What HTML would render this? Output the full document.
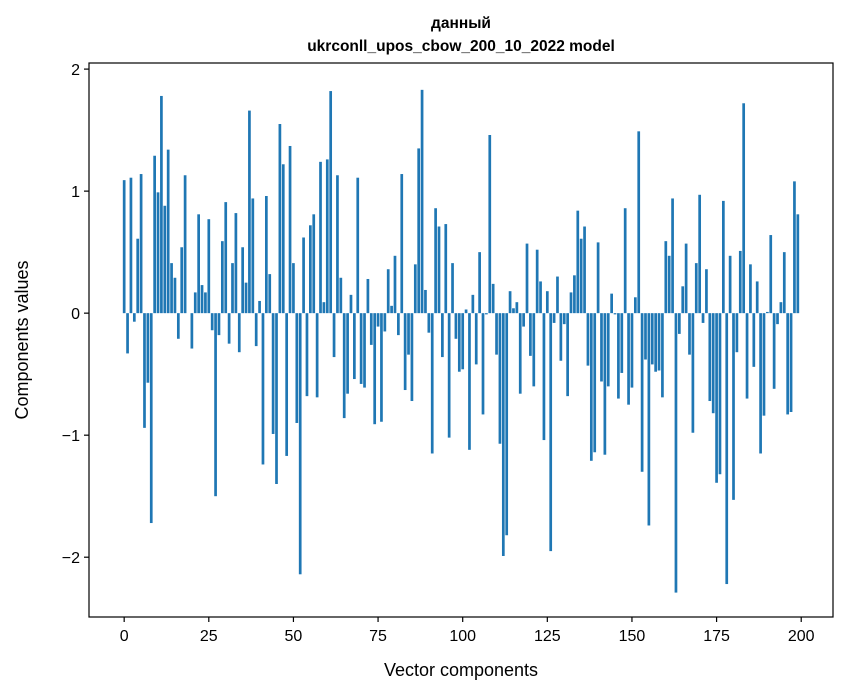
<!DOCTYPE html>
<html><head><meta charset="utf-8"><style>
body{margin:0;background:#fff;}
svg{display:block;font-family:"Liberation Sans","DejaVu Sans",sans-serif;}
</style></head><body>
<svg id="chart" width="847" height="696" viewBox="0 0 847 696">
<rect width="847" height="696" fill="#fff"/>
<text x="461" y="28" text-anchor="middle" font-size="15.5" font-weight="bold">данный</text>
<text x="461" y="51" text-anchor="middle" font-size="15.5" font-weight="bold">ukrconll_upos_cbow_200_10_2022 model</text>
<g id="bars"></g>
<g id="xticks"></g>
<g id="yticks"></g>
<rect x="89" y="63" width="744" height="554" fill="none" stroke="#000" stroke-width="1.2"/>
<text x="461" y="676" text-anchor="middle" font-size="18">Vector components</text>
<text transform="translate(28,340) rotate(-90)" text-anchor="middle" font-size="18">Components values</text>
</svg>
<script>
const values = [1.09,-0.33,1.11,-0.07,0.61,1.14,-0.94,-0.57,-1.72,1.29,
0.99,1.78,0.88,1.34,0.41,0.29,-0.21,0.54,1.13,0.0,
-0.29,0.17,0.81,0.23,0.17,0.77,-0.14,-1.50,-0.18,0.59,
0.91,-0.25,0.41,0.82,-0.32,0.54,0.25,1.66,0.94,-0.27,
0.10,-1.24,0.96,0.32,-0.99,-1.40,1.55,1.22,-1.17,1.37,
0.41,-0.90,-2.14,0.62,-0.68,0.72,0.81,-0.69,1.24,0.09,
1.26,1.82,-0.36,1.13,0.29,-0.86,-0.66,0.15,-0.54,1.11,
-0.58,-0.61,0.28,-0.26,-0.91,-0.11,-0.89,-0.15,0.36,0.06,
0.47,-0.18,1.14,-0.63,-0.34,-0.72,0.40,1.35,1.83,0.19,
-0.16,-1.15,0.86,0.71,-0.36,0.73,-1.02,0.41,-0.21,-0.48,
-0.46,0.03,-1.12,0.15,-0.42,0.50,-0.83,-0.01,1.46,0.24,
-0.34,-1.07,-1.99,-1.82,0.18,0.04,0.09,-0.66,-0.11,0.57,
-0.35,-0.60,0.52,0.26,-1.04,0.18,-1.95,-0.08,0.30,-0.39,
-0.09,-0.68,0.17,0.31,0.84,0.61,0.71,-0.43,-1.21,-1.14,
0.58,-0.56,-1.16,-0.60,0.16,-0.01,-0.70,-0.49,0.86,-0.75,
-0.61,0.13,1.49,-1.30,-0.38,-1.74,-0.42,-0.48,-0.47,-0.69,
0.59,0.47,0.94,-2.29,-0.17,0.22,0.57,-0.34,-0.98,0.41,
0.97,-0.08,0.36,-0.72,-0.82,-1.39,-1.32,0.92,-2.22,0.47,
-1.53,-0.32,0.51,1.72,-0.70,0.40,-0.44,0.26,-1.15,-0.84,
0.01,0.64,-0.62,-0.09,0.09,0.50,-0.83,-0.81,1.08,0.81];
const xTickValues = [0,25,50,75,100,125,150,175,200];
const yTickValues = [-2,-1,0,1,2];
const NS="http://www.w3.org/2000/svg";
const X0=89,X1=833,Y0=63,Y1=617;
const xMin=-10.39,xMax=209.39,yMin=-2.49,yMax=2.05;
function sx(v){return X0+(v-xMin)/(xMax-xMin)*(X1-X0);}
function sy(v){return Y1-(v-yMin)/(yMax-yMin)*(Y1-Y0);}
const bars=document.getElementById('bars');
values.forEach((v,i)=>{
  const r=document.createElementNS(NS,'rect');
  const xa=sx(i-0.4),xb=sx(i+0.4);
  const ya=sy(Math.max(v,0)),yb=sy(Math.min(v,0));
  r.setAttribute('x',xa);r.setAttribute('width',xb-xa);
  r.setAttribute('y',ya);r.setAttribute('height',Math.max(yb-ya,0));
  r.setAttribute('fill','#1f77b4');
  
  
  bars.appendChild(r);
});
const xt=document.getElementById('xticks');
xTickValues.forEach(t=>{
  const l=document.createElementNS(NS,'line');
  l.setAttribute('x1',sx(t));l.setAttribute('x2',sx(t));l.setAttribute('y1',Y1);l.setAttribute('y2',Y1+5);
  l.setAttribute('stroke','#000');l.setAttribute('stroke-width','1.2');
  
  
  xt.appendChild(l);
  const tx=document.createElementNS(NS,'text');
  tx.setAttribute('x',sx(t));tx.setAttribute('y',Y1+24);tx.setAttribute('text-anchor','middle');tx.setAttribute('font-size','16');
  tx.textContent=t;
  
  
  xt.appendChild(tx);
});
const yt=document.getElementById('yticks');
yTickValues.forEach(t=>{
  const l=document.createElementNS(NS,'line');
  l.setAttribute('x1',X0-5);l.setAttribute('x2',X0);l.setAttribute('y1',sy(t));l.setAttribute('y2',sy(t));
  l.setAttribute('stroke','#000');l.setAttribute('stroke-width','1.2');
  
  
  yt.appendChild(l);
  const tx=document.createElementNS(NS,'text');
  tx.setAttribute('x',X0-9);tx.setAttribute('y',sy(t)+6);tx.setAttribute('text-anchor','end');tx.setAttribute('font-size','16');
  tx.textContent=t<0?'\u2212'+Math.abs(t):String(t);
  
  
  yt.appendChild(tx);
});
</script>
</body></html>
